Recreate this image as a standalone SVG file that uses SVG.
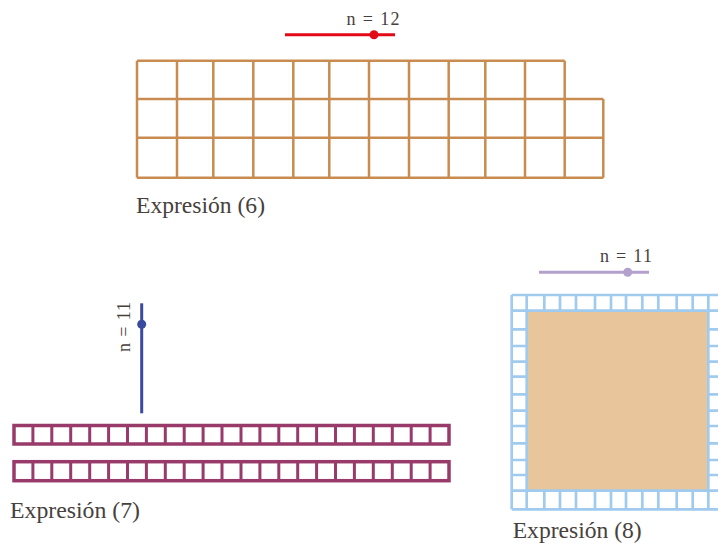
<svg xmlns="http://www.w3.org/2000/svg" width="718" height="544" viewBox="0 0 718 544">
<style>
text{font-family:'Liberation Serif','Tinos','Times New Roman','DejaVu Serif',serif;fill:#46413d}
.cap{font-size:23px}
.n{font-size:18px}
.brown{stroke:#c98c50;stroke-width:2.5;fill:none}
.purple{stroke:#983a6a;fill:none}
.blue{stroke:#a0cbee;stroke-width:2.7;fill:none}
</style>
<rect width="718" height="544" fill="#ffffff"/>

<g id="fig6">
  <text class="n" x="373" y="25" text-anchor="middle" textLength="53" lengthAdjust="spacing">n = 12</text>
  <line x1="285" y1="34.7" x2="395" y2="34.7" stroke="#e30a17" stroke-width="3"/>
  <circle cx="374" cy="34.7" r="4.5" fill="#e30a17"/>
  <g class="brown">
    <line x1="137" y1="60.7" x2="564.7" y2="60.7"/>
    <line x1="137" y1="99" x2="603.3" y2="99"/>
    <line x1="137" y1="137.7" x2="603.3" y2="137.7"/>
    <line x1="137" y1="177.7" x2="603.3" y2="177.7"/>
    <path d="M137 60.7V177.7M177 60.7V177.7M213.3 60.7V177.7M253.3 60.7V177.7M293.3 60.7V177.7M329.3 60.7V177.7M369 60.7V177.7M409 60.7V177.7M448.7 60.7V177.7M485.3 60.7V177.7M525 60.7V177.7M564.7 60.7V177.7M603.3 99V177.7"/>
  </g>
  <text class="cap" x="136" y="213.3" textLength="129" lengthAdjust="spacingAndGlyphs">Expresión (6)</text>
</g>

<g id="fig7">
  <line x1="141.7" y1="303.3" x2="141.7" y2="413.3" stroke="#3a4a9f" stroke-width="3"/>
  <circle cx="141.7" cy="324.3" r="4.5" fill="#3a4a9f"/>
  <text class="n" transform="translate(130,327) rotate(-90)" text-anchor="middle" textLength="50" lengthAdjust="spacing">n = 11</text>
  <g class="purple">
    <rect x="14" y="425.5" width="435" height="18.5" stroke-width="3.5"/>
    <rect x="14" y="461.7" width="435" height="19" stroke-width="3.5"/>
    <path stroke-width="3" d="M32.9 425.5V444M51.8 425.5V444M70.7 425.5V444M89.7 425.5V444M108.6 425.5V444M127.5 425.5V444M146.4 425.5V444M165.3 425.5V444M184.2 425.5V444M203.1 425.5V444M222 425.5V444M241 425.5V444M259.9 425.5V444M278.8 425.5V444M297.7 425.5V444M316.6 425.5V444M335.5 425.5V444M354.4 425.5V444M373.3 425.5V444M392.3 425.5V444M411.2 425.5V444M430.1 425.5V444
    M32.9 461.7V480.7M51.8 461.7V480.7M70.7 461.7V480.7M89.7 461.7V480.7M108.6 461.7V480.7M127.5 461.7V480.7M146.4 461.7V480.7M165.3 461.7V480.7M184.2 461.7V480.7M203.1 461.7V480.7M222 461.7V480.7M241 461.7V480.7M259.9 461.7V480.7M278.8 461.7V480.7M297.7 461.7V480.7M316.6 461.7V480.7M335.5 461.7V480.7M354.4 461.7V480.7M373.3 461.7V480.7M392.3 461.7V480.7M411.2 461.7V480.7M430.1 461.7V480.7"/>
  </g>
  <text class="cap" x="10" y="517.7" textLength="130" lengthAdjust="spacingAndGlyphs">Expresión (7)</text>
</g>

<g id="fig8">
  <text class="n" x="626" y="261.7" text-anchor="middle" textLength="52" lengthAdjust="spacing">n = 11</text>
  <line x1="539" y1="272.3" x2="649" y2="272.3" stroke="#b3a1cd" stroke-width="3"/>
  <circle cx="627.7" cy="272.3" r="4.5" fill="#b3a1cd"/>
  <rect x="526.7" y="310.7" width="181.6" height="180" fill="#e9c59b"/>
  <g class="blue">
    <line x1="511.7" y1="295" x2="730" y2="295"/>
    <line x1="511.7" y1="310.7" x2="730" y2="310.7"/>
    <line x1="511.7" y1="490.7" x2="730" y2="490.7"/>
    <line x1="511.7" y1="509.3" x2="730" y2="509.3"/>
    <line x1="511.7" y1="295" x2="511.7" y2="509.3"/>
    <line x1="526.7" y1="295" x2="526.7" y2="509.3"/>
    <line x1="708.3" y1="295" x2="708.3" y2="509.3"/>
    <path d="M544.3 295V310.7M560 295V310.7M576 295V310.7M595 295V310.7M611 295V310.7M626 295V310.7M642.3 295V310.7M658.3 295V310.7M676.7 295V310.7M692.7 295V310.7
    M544.3 490.7V509.3M560 490.7V509.3M576 490.7V509.3M595 490.7V509.3M611 490.7V509.3M626 490.7V509.3M642.3 490.7V509.3M658.3 490.7V509.3M676.7 490.7V509.3M692.7 490.7V509.3
    M511.7 329.3H526.7M511.7 346H526.7M511.7 361.7H526.7M511.7 376.7H526.7M511.7 394.3H526.7M511.7 410.7H526.7M511.7 426H526.7M511.7 443.3H526.7M511.7 460H526.7M511.7 475H526.7
    M708.3 329.3H730M708.3 346H730M708.3 361.7H730M708.3 376.7H730M708.3 394.3H730M708.3 410.7H730M708.3 426H730M708.3 443.3H730M708.3 460H730M708.3 475H730"/>
  </g>
  <text class="cap" x="512.7" y="537.7" textLength="129" lengthAdjust="spacingAndGlyphs">Expresión (8)</text>
</g>
</svg>
